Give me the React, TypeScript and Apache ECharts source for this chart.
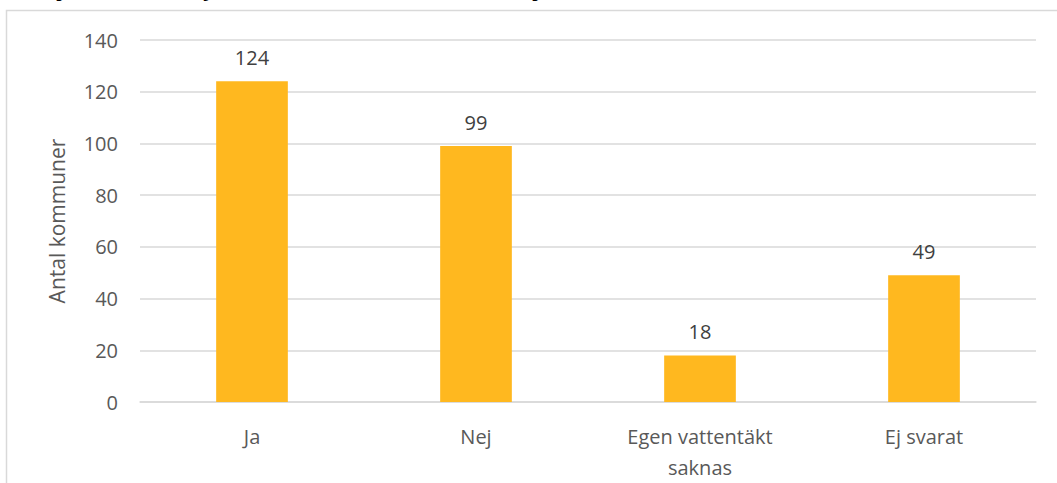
import React, { useEffect, useRef } from "react";
import * as echarts from "echarts";

const categories = ["Ja", "Nej", "Egen vattentäkt\nsaknas", "Ej svarat"];
const values = [124, 99, 18, 49];
const yTicks = { min: 0, max: 140, interval: 20 };
const yAxisName = "Antal kommuner";

const FONT = "'Open Sans', sans-serif";

export default function App() {
  const ref = useRef<HTMLDivElement>(null);
  useEffect(() => {
    const chart = echarts.init(ref.current!, null, { renderer: "svg" });
    chart.setOption({
      animation: false,
      backgroundColor: "#ffffff",
      grid: { left: 140, right: 21, top: 40, bottom: 81, containLabel: false },
      graphic: [
        {
          type: "rect",
          shape: { x: 6.5, y: 10.5, width: 1200, height: 600 },
          style: { fill: "none", stroke: "#d9d9d9", lineWidth: 1.5 },
          silent: true,
          z: -1,
        },
        { type: "text", x: 58, y: -2, style: { text: "j", font: `bold 22px ${FONT}`, fill: "#000", verticalAlign: "bottom" } },
        { type: "text", x: 203, y: -2, style: { text: "y", font: `bold 22px ${FONT}`, fill: "#000", verticalAlign: "bottom" } },
        { type: "text", x: 534, y: -2, style: { text: "j", font: `bold 22px ${FONT}`, fill: "#000", verticalAlign: "bottom" } },
      ],
      xAxis: {
        type: "category",
        data: categories,
        axisLine: { lineStyle: { color: "#d9d9d9", width: 1.5 } },
        axisTick: { show: false },
        axisLabel: {
          color: "#595959",
          fontFamily: FONT,
          fontSize: 20,
          margin: 19,
          lineHeight: 31,
          interval: 0,
        },
      },
      yAxis: {
        type: "value",
        min: yTicks.min,
        max: yTicks.max,
        interval: yTicks.interval,
        name: yAxisName,
        nameLocation: "middle",
        nameGap: 73,
        nameTextStyle: { color: "#595959", fontFamily: FONT, fontSize: 21 },
        axisLine: { show: false },
        axisTick: { show: false },
        axisLabel: { color: "#595959", fontFamily: FONT, fontSize: 20, margin: 22 },
        splitLine: { lineStyle: { color: "#d9d9d9", width: 1.5 } },
      },
      series: [
        {
          type: "bar",
          data: values,
          barWidth: "32%",
          itemStyle: { color: "#FFB81F" },
          label: {
            show: true,
            position: "top",
            distance: 14,
            color: "#404040",
            fontFamily: FONT,
            fontSize: 20,
          },
        },
      ],
    });
    return () => chart.dispose();
  }, []);
  return (
    <div
      ref={ref}
      style={{ position: "absolute", left: 0, top: 0, width: 1057, height: 483 }}
    />
  );
}
